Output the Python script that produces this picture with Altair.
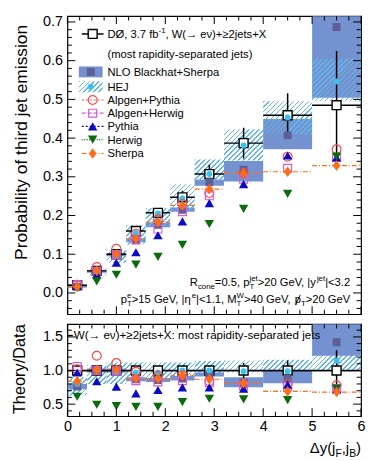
import altair as alt
import pandas as pd

# ---------------- values ----------------
bin_lo = [0.0, 0.4, 0.8, 1.2, 1.6, 2.1, 2.6, 3.2, 4.0, 5.0]
bin_hi = [0.4, 0.8, 1.2, 1.6, 2.1, 2.6, 3.2, 4.0, 5.0, 6.0]
bin_mid = [0.2, 0.6, 1.0, 1.4, 1.85, 2.35, 2.9, 3.6, 4.5, 5.5]

# upper panel: probability of third jet emission
d0_prob = [0.020, 0.057, 0.100, 0.160, 0.207, 0.247, 0.307, 0.387, 0.459, 0.485]
d0_err = [0.002, 0.003, 0.005, 0.008, 0.011, 0.017, 0.024, 0.040, 0.057, 0.140]
nlo_prob = [0.016, 0.055, 0.099, 0.137, 0.176, 0.215, 0.286, 0.318, 0.407, 0.687]
nlo_low = [0.014, 0.052, 0.095, 0.131, 0.170, 0.210, 0.277, 0.288, 0.371, 0.504]
nlo_high = [0.018, 0.058, 0.103, 0.141, 0.181, 0.221, 0.293, 0.341, 0.449, 0.870]
hej_prob = [0.017, 0.055, 0.095, 0.155, 0.205, 0.244, 0.307, 0.381, 0.453, 0.546]
hej_low = [0.013, 0.046, 0.078, 0.125, 0.173, 0.215, 0.290, 0.342, 0.410, 0.495]
hej_high = [0.022, 0.066, 0.112, 0.174, 0.219, 0.281, 0.345, 0.423, 0.495, 0.605]
alpgen_pythia = [0.021, 0.067, 0.114, 0.153, 0.190, 0.230, 0.258, 0.310, 0.352, 0.371]
alpgen_herwig = [0.021, 0.056, 0.098, 0.137, 0.165, 0.210, 0.251, 0.294, 0.322, 0.350]
pythia = [0.019, 0.048, 0.078, 0.105, 0.149, 0.185, 0.232, 0.281, 0.355, 0.350]
herwig = [0.012, 0.030, 0.047, 0.073, 0.093, 0.124, 0.178, 0.217, 0.256, 0.352]
sherpa = [0.016, 0.057, 0.100, 0.140, 0.183, 0.226, 0.268, 0.309, 0.313, 0.329]

# lower panel: theory / data
d0_ratio_err = [0.04, 0.04, 0.05, 0.05, 0.05, 0.07, 0.08, 0.11, 0.15, 0.30]
nlo_ratio = [0.76, 1.00, 1.00, 0.87, 0.86, 0.88, 0.94, 0.82, 0.88, 1.42]
nlo_ratio_low = [0.72, 0.97, 0.97, 0.84, 0.83, 0.85, 0.91, 0.75, 0.81, 1.22]
nlo_ratio_high = [0.80, 1.03, 1.03, 0.90, 0.89, 0.92, 0.97, 0.90, 1.00, 1.80]
hej_ratio = [0.80, 1.00, 0.97, 0.97, 0.97, 1.00, 1.00, 0.99, 0.99, 1.15]
hej_ratio_low = [0.63, 0.80, 0.80, 0.84, 0.88, 0.92, 0.95, 0.97, 1.00, 1.00]
hej_ratio_high = [0.90, 1.08, 1.12, 1.12, 1.12, 1.12, 1.14, 1.15, 1.16, 1.23]
alpgen_pythia_ratio = [1.02, 1.22, 1.11, 0.98, 0.92, 0.93, 0.84, 0.80, 0.80, 0.78]
alpgen_herwig_ratio = [1.06, 1.00, 0.99, 0.85, 0.83, 0.85, 0.82, 0.77, 0.76, 0.73]
pythia_ratio = [0.97, 0.84, 0.76, 0.66, 0.71, 0.75, 0.75, 0.73, 0.79, 0.72]
herwig_ratio = [0.61, 0.49, 0.47, 0.46, 0.46, 0.53, 0.58, 0.57, 0.56, 0.73]
sherpa_ratio = [0.84, 1.01, 1.01, 0.88, 0.88, 0.93, 0.87, 0.81, 0.69, 0.68]

# axis tick values
x_ticks = [0, 1, 2, 3, 4, 5, 6]
x_minor = [0.25, 0.5, 0.75, 1.25, 1.5, 1.75, 2.25, 2.5, 2.75, 3.25, 3.5, 3.75,
           4.25, 4.5, 4.75, 5.25, 5.5, 5.75]
prob_ticks = [0.0, 0.1, 0.2, 0.3, 0.4, 0.5, 0.6, 0.7]
prob_minor = [-0.04, -0.02, 0.02, 0.04, 0.06, 0.08, 0.12, 0.14, 0.16, 0.18, 0.22, 0.24,
              0.26, 0.28, 0.32, 0.34, 0.36, 0.38, 0.42, 0.44, 0.46, 0.48, 0.52, 0.54,
              0.56, 0.58, 0.62, 0.64, 0.66, 0.68]
ratio_ticks = [0.5, 1.0, 1.5]
ratio_minor = [0.4, 0.6, 0.7, 0.8, 0.9, 1.1, 1.2, 1.3, 1.4, 1.6]

legend_labels = ["NLO Blackhat+Sherpa", "HEJ", "Alpgen+Pythia", "Alpgen+Herwig",
                 "Pythia", "Herwig", "Sherpa"]

# ---------------- styling ----------------
FONT = "Liberation Sans"
W = 296.5
H_TOP = 301
H_RAT = 93
Y_TOP = [-0.055, 0.715]
Y_RAT = [0.32, 1.69]
C_NLO = "#7592d0"
C_NLO_M = "#5f5f96"
C_HEJ = "#62b6e8"
C_HEJ_M = "#38c2ef"
DIAMOND = "M0,-1L0.72,0L0,1L-0.72,0Z"
MC = [
    ("ap", dict(shape="circle", filled=False, color="#f24a4a", size=80, dash=[2, 2])),
    ("ah", dict(shape="square", filled=False, color="#d95bd9", size=64, dash=[4, 2])),
    ("py", dict(shape="triangle-up", filled=True, color="#0b0bc4", size=90, dash=[2, 2])),
    ("hw", dict(shape="triangle-down", filled=True, color="#0b6b0b", size=90, dash=[1, 1.5])),
    ("sh", dict(shape=DIAMOND, filled=True, color="#ff6c16", size=115, dash=[5, 2, 1, 2])),
]

ONE = pd.DataFrame({"k": [0]})

CW = {' ': 278, '!': 278, '(': 333, ')': 333, '+': 584, ',': 278, '-': 333, '.': 278,
      '/': 278, ':': 278, '<': 584, '=': 584, '>': 584, '|': 260, 'A': 667, 'B': 667,
      'C': 722, 'D': 722, 'E': 667, 'F': 611, 'G': 778, 'H': 722, 'I': 278, 'J': 500,
      'K': 667, 'L': 556, 'M': 833, 'N': 722, 'O': 778, 'P': 667, 'R': 722, 'S': 667,
      'T': 611, 'V': 667, 'W': 944, 'X': 667, 'Y': 667, 'a': 556, 'b': 556, 'c': 500,
      'd': 556, 'e': 556, 'f': 278, 'g': 556, 'h': 556, 'i': 222, 'j': 222, 'k': 500,
      'l': 222, 'm': 833, 'n': 556, 'o': 556, 'p': 556, 'r': 333, 's': 500, 't': 278,
      'u': 556, 'v': 500, 'w': 722, 'x': 500, 'y': 500, 'z': 500, 'η': 556, 'ν': 520,
      '→': 1000, '≥': 549, 'Δ': 668, 'Ø': 778}


def tw(s, fs):
    return sum(CW.get(ch, 556) for ch in s) * fs / 1000.0


def rich(segs, x, y, fs, anchor="left"):
    """Text with sub/superscripts; kind 'slash' draws a slash line through the next glyph."""
    small = fs * 0.7
    items = []
    slashes = []
    cx = 0.0
    held = 0.0
    for j, (txt, kind) in enumerate(segs):
        if kind == "n":
            items.append((cx, y, fs, txt))
            cx += tw(txt, fs)
        elif kind == "slash":
            wn = tw(segs[j + 1][0][0], fs)
            slashes.append((cx + 0.12 * wn, y + 0.2 * fs, cx + 0.9 * wn, y - 0.72 * fs))
        else:
            w = tw(txt, small)
            dy = 0.3 * fs if kind.startswith("sub") else -0.42 * fs
            items.append((cx, y + dy, small, txt))
            if kind.endswith("0"):
                held = w
            else:
                cx += max(w, held)
                held = 0.0
    x0 = x - cx if anchor == "right" else x
    out = [alt.Chart(ONE).mark_text(text=t, align="left", baseline="alphabetic", font=FONT,
                                    fontSize=s, color="black")
           .encode(x=alt.value(round(x0 + px, 2)), y=alt.value(round(py, 2)))
           for px, py, s, t in items]
    for ax, ay, bx, by in slashes:
        out.append(alt.Chart(ONE).mark_rule(color="black", strokeWidth=0.9)
                   .encode(x=alt.value(round(x0 + ax, 2)), x2=alt.value(round(x0 + bx, 2)),
                           y=alt.value(round(ay, 2)), y2=alt.value(round(by, 2))))
    return out


def hatch_fill(wpx, hpx, period=5.0, line=1.6):
    wpx = max(wpx, 0.5)
    hpx = max(hpx, 0.5)
    L = wpx + hpx
    k = L / (wpx * wpx + hpx * hpx)
    clear = "rgba(255,255,255,0)"
    stops = []
    t = 0.0
    while t < L:
        a = round(t / L, 5)
        b = round(min((t + line) / L, 1.0), 5)
        c = round(min((t + period) / L, 1.0), 5)
        stops += [{"offset": a, "color": C_HEJ}, {"offset": b, "color": C_HEJ},
                  {"offset": b, "color": clear}, {"offset": c, "color": clear}]
        t += period
    return {"gradient": "linear", "x1": 0, "y1": 0, "x2": round(k * wpx, 5),
            "y2": round(k * hpx, 5), "stops": stops}


def axes(ydom, yvals, show_x):
    ysc = alt.Scale(domain=ydom, nice=False, zero=False)
    xsc = alt.Scale(domain=[0, 6], nice=False, zero=False)
    common = dict(title=None, grid=False, domain=False, ticks=False, tickSize=0,
                  labelFont=FONT, labelFontSize=14.5, labelFlush=False,
                  labelOverlap=False, labelColor="black")
    yax = alt.Axis(values=yvals, labelPadding=5, **common)
    xax = alt.Axis(values=x_ticks, labelPadding=3, **common) if show_x else None
    X = lambda f: alt.X(f, type="quantitative", scale=xsc, axis=xax)
    Y = lambda f: alt.Y(f, type="quantitative", scale=ysc, axis=yax)
    return X, Y


def tick_layers(H, ymaj, ymin, X, Y):
    out = []
    for vals, L in ((x_ticks, 8), (x_minor, 4.5)):
        d = pd.DataFrame({"v": vals})
        for yy in (H - L / 2, L / 2):
            out.append(alt.Chart(d).mark_tick(orient="vertical", size=L, thickness=1,
                                              color="black", opacity=1)
                       .encode(x=X("v"), y=alt.value(yy)))
    for vals, L in ((ymaj, 8), (ymin, 4.5)):
        d = pd.DataFrame({"v": vals})
        for xx in (L / 2, W - L / 2):
            out.append(alt.Chart(d).mark_tick(orient="horizontal", size=L, thickness=1,
                                              color="black", opacity=1)
                       .encode(y=Y("v"), x=alt.value(xx)))
    return out


def hej_layers(df, lo, hi, pxu, X, Y):
    out = []
    for i in range(len(df)):
        row = df.iloc[[i]]
        w = (row["hi"].iloc[0] - row["lo"].iloc[0]) * W / 6
        h = (row[hi].iloc[0] - row[lo].iloc[0]) * pxu
        out.append(alt.Chart(row).mark_rect(fill=hatch_fill(w, h), clip=True, strokeWidth=0)
                   .encode(x=X("lo"), x2=alt.X2("hi"), y=Y(lo), y2=alt.Y2(hi)))
    return out


def marker_chart(data, st):
    if st["filled"]:
        return alt.Chart(data).mark_point(shape=st["shape"], filled=True, color=st["color"],
                                          size=st["size"], opacity=1, strokeWidth=0)
    return alt.Chart(data).mark_point(shape=st["shape"], filled=False, color=st["color"],
                                      size=st["size"], opacity=1, strokeWidth=1.2)


def build(df, H, ydom, ymaj, ymin, top):
    X, Y = axes(ydom, ymaj, not top)
    pxu = H / (ydom[1] - ydom[0])
    nlo_rect = alt.Chart(df).mark_rect(color=C_NLO, clip=True, opacity=1).encode(
        x=X("lo"), x2=alt.X2("hi"), y=Y("nlo_lo"), y2=alt.Y2("nlo_hi"))
    hej = hej_layers(df, "hej_lo", "hej_hi", pxu, X, Y)
    L = [nlo_rect] + hej if top else hej + [nlo_rect]
    if not top:
        L.append(alt.Chart(pd.DataFrame({"v": [1.0]})).mark_rule(color="black", strokeWidth=1.3)
                 .encode(y=Y("v")))
    L.append(alt.Chart(df).mark_rule(color="#ff6c16", strokeWidth=1.2, strokeDash=[5, 2, 1, 2],
                                     clip=True)
             .encode(x=X("lo"), x2=alt.X2("hi"), y=Y("sh")))
    L.append(alt.Chart(df).mark_rule(color="black", strokeWidth=1.5, clip=True)
             .encode(x=X("lo"), x2=alt.X2("hi"), y=Y("d0")))
    L.append(alt.Chart(df).mark_rule(color="black", strokeWidth=1.5, clip=True)
             .encode(x=X("mid"), y=Y("dlo"), y2=alt.Y2("dhi")))
    L.append(alt.Chart(df).mark_point(shape="square", filled=True, fill="white", stroke="black",
                                      strokeWidth=1.4, size=81, opacity=1)
             .encode(x=X("mid"), y=Y("d0")))
    L.append(alt.Chart(df).mark_square(color=C_NLO_M, size=64, opacity=1, clip=True)
             .encode(x=X("mid"), y=Y("nlo")))
    L.append(alt.Chart(df).mark_circle(color=C_HEJ_M, size=36, opacity=1)
             .encode(x=X("mid"), y=Y("hej")))
    for col, st in MC:
        L.append(marker_chart(df, st).encode(x=X("mid"), y=Y(col)))
    L += tick_layers(H, ymaj, ymin, X, Y)
    return L


df_top = pd.DataFrame({
    "lo": bin_lo, "hi": bin_hi, "mid": bin_mid, "d0": d0_prob,
    "dlo": [v - e for v, e in zip(d0_prob, d0_err)],
    "dhi": [v + e for v, e in zip(d0_prob, d0_err)],
    "nlo": nlo_prob, "nlo_lo": nlo_low, "nlo_hi": nlo_high,
    "hej": hej_prob, "hej_lo": hej_low, "hej_hi": hej_high,
    "ap": alpgen_pythia, "ah": alpgen_herwig, "py": pythia, "hw": herwig, "sh": sherpa,
})
ones = [1.0] * len(bin_lo)
df_rat = pd.DataFrame({
    "lo": bin_lo, "hi": bin_hi, "mid": bin_mid, "d0": ones,
    "dlo": [1 - e for e in d0_ratio_err], "dhi": [1 + e for e in d0_ratio_err],
    "nlo": nlo_ratio, "nlo_lo": nlo_ratio_low, "nlo_hi": nlo_ratio_high,
    "hej": hej_ratio, "hej_lo": hej_ratio_low, "hej_hi": hej_ratio_high,
    "ap": alpgen_pythia_ratio, "ah": alpgen_herwig_ratio, "py": pythia_ratio,
    "hw": herwig_ratio, "sh": sherpa_ratio,
})

top_layers = build(df_top, H_TOP, Y_TOP, prob_ticks, prob_minor, True)
rat_layers = build(df_rat, H_RAT, Y_RAT, ratio_ticks, ratio_minor, False)

# ---------------- legend (upper panel) ----------------
LFS = 11.3
rows = [56.3, 71.3, 84.7, 98.0, 111.3, 124.7, 138.7]
leg = []
leg.append(alt.Chart(ONE).mark_rule(color="black", strokeWidth=1.5)
           .encode(x=alt.value(14.5), x2=alt.value(36.5), y=alt.value(18)))
leg.append(alt.Chart(ONE).mark_point(shape="square", filled=True, fill="white", stroke="black",
                                     strokeWidth=1.4, size=81, opacity=1)
           .encode(x=alt.value(25.5), y=alt.value(18)))
leg += rich([("DØ, 3.7 fb", "n"), ("-1", "sup"), (", W(→ eν)+≥2jets+X", "n")], 40.5, 22, LFS)
leg += rich([("(most rapidity-separated jets)", "n")], 40.5, 42, LFS)
leg.append(alt.Chart(ONE).mark_rect(color=C_NLO, opacity=1)
           .encode(x=alt.value(11.5), x2=alt.value(35.5), y=alt.value(rows[0] - 5.5),
                   y2=alt.value(rows[0] + 5.5)))
leg.append(alt.Chart(ONE).mark_square(color=C_NLO_M, size=64, opacity=1)
           .encode(x=alt.value(23.5), y=alt.value(rows[0])))
leg.append(alt.Chart(ONE).mark_rect(fill=hatch_fill(24, 11), strokeWidth=0)
           .encode(x=alt.value(11.5), x2=alt.value(35.5), y=alt.value(rows[1] - 5.5),
                   y2=alt.value(rows[1] + 5.5)))
leg.append(alt.Chart(ONE).mark_circle(color=C_HEJ_M, size=36, opacity=1)
           .encode(x=alt.value(23.5), y=alt.value(rows[1])))
for (col, st), yy in zip(MC, rows[2:]):
    leg.append(alt.Chart(ONE).mark_rule(color=st["color"], strokeWidth=1.2, strokeDash=st["dash"])
               .encode(x=alt.value(14.5), x2=alt.value(36.5), y=alt.value(yy)))
    leg.append(marker_chart(ONE, st).encode(x=alt.value(25.5), y=alt.value(yy)))
for lab, yy in zip(legend_labels, rows):
    leg += rich([(lab, "n")], 40.5, yy + 4, LFS)

# cut annotations
ann = []
ann += rich([("R", "n"), ("cone", "sub"), ("=0.5, p", "n"), ("T", "sub0"), ("jet", "sup"),
             (">20 GeV, |y", "n"), ("jet", "sup"), ("|<3.2", "n")], 285.5, 272, 11.3, "right")
ann += rich([("p", "n"), ("T", "sub0"), ("e", "sup"), (">15 GeV, |η", "n"), ("e", "sup"),
             ("|<1.1, M", "n"), ("T", "sub0"), ("W", "sup"), (">40 GeV, ", "n"), ("", "slash"),
             ("p", "n"), ("T", "sub"), (">20 GeV", "n")], 285.5, 289.5, 11.3, "right")

ytitle_top = alt.Chart(ONE).mark_text(text="Probability of third jet emission", angle=270,
                                      align="center", baseline="middle", font=FONT,
                                      fontSize=17.5, color="black").encode(
    x=alt.value(-46), y=alt.value(127.5))

top = alt.layer(*(top_layers + leg + ann + [ytitle_top])).properties(width=W, height=H_TOP)

# ---------------- ratio panel texts ----------------
rt = []
rt.append(alt.Chart(ONE).mark_rule(color="black", strokeWidth=1.3)
          .encode(x=alt.value(0), x2=alt.value(5.5), y=alt.value(11.5)))
rt += rich([("W(→ eν)+≥2jets+X: most rapidity-separated jets", "n")], 6.5, 15.5, 11.7)
rt += rich([("Δy(j", "n"), ("F", "sub"), (",j", "n"), ("B", "sub"), (")", "n")],
           W, 130, 15, "right")
rt.append(alt.Chart(ONE).mark_text(text="Theory/Data", angle=270, align="center",
                                   baseline="middle", font=FONT, fontSize=16.5, color="black")
          .encode(x=alt.value(-48), y=alt.value(45.5)))

bottom = alt.layer(*(rat_layers + rt)).properties(width=W, height=H_RAT)

chart = (alt.vconcat(top, bottom, spacing=8)
         .properties(padding={"left": 3, "top": 3, "right": 0, "bottom": 0})
         .configure(font=FONT, background="white")
         .configure_view(stroke="black", strokeWidth=1.2))

chart.save("out.html", embed_options={"renderer": "svg", "actions": False})
